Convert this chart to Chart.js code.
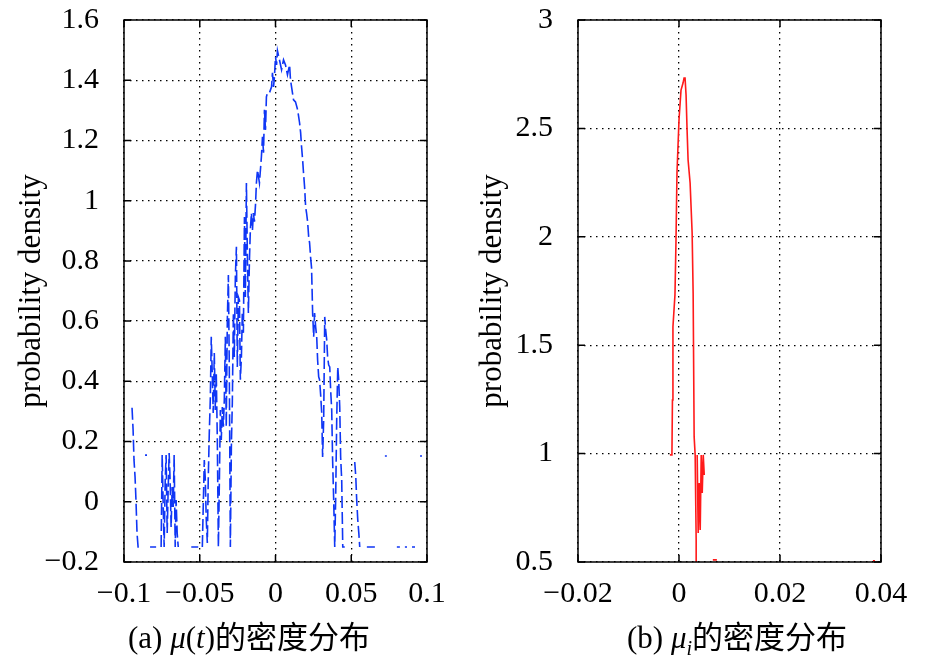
<!DOCTYPE html>
<html><head><meta charset="utf-8">
<script src="https://cdn.jsdelivr.net/npm/chart.js@4.4.0/dist/chart.umd.min.js"></script>
<style>
html,body{margin:0;padding:0;background:#fff;}
#wrap{position:relative;width:946px;height:667px;overflow:hidden;background:#fff;}
#cA{position:absolute;left:0;top:0;}
#cB{position:absolute;left:461px;top:0;}
.cap{position:absolute;top:616px;font-family:"Liberation Serif","Times New Roman",serif;font-size:31px;line-height:38px;white-space:nowrap;color:#000;}
.cap .zh{font-family:"Noto Sans CJK SC",sans-serif;font-size:31px;}
.cap sub{font-size:20px;vertical-align:-7px;line-height:0;}
</style></head>
<body><div id="wrap">
<canvas id="cA" width="461" height="667"></canvas>
<canvas id="cB" width="485" height="667"></canvas>
<div class="cap" style="left:128px">(a) <i>μ</i>(<i>t</i>)<span class="zh">的密度分布</span></div>
<div class="cap" style="left:627px">(b) <i>μ</i><sub><i>i</i></sub><span class="zh">的密度分布</span></div>
</div>
<script>
// ---- data: panel (a) density of mu(t); null = break in line ----
const leftX = [
 -0.0947,-0.0940,-0.0934,-0.0927,-0.0921,-0.0914,-0.0907,-0.0894,null,
 -0.0861,-0.0848,null,
 -0.0828,-0.0788,null,
 -0.0755,-0.0748,-0.0742,-0.0735,-0.0728,-0.0722,-0.0715,-0.0709,-0.0702,-0.0695,-0.0689,-0.0682,-0.0675,-0.0669,-0.0662,-0.0656,-0.0649,-0.0642,null,
 -0.0556,-0.0510,null,
 -0.0483,-0.0470,-0.0464,-0.0457,-0.0450,-0.0444,-0.0437,-0.0430,-0.0424,-0.0417,-0.0411,-0.0404,-0.0397,-0.0391,-0.0384,-0.0377,
 -0.0371,-0.0364,-0.0358,-0.0351,-0.0344,-0.0338,-0.0331,-0.0325,-0.0318,-0.0311,-0.0305,-0.0298,-0.0291,-0.0285,-0.0278,-0.0272,
 -0.0265,-0.0258,-0.0252,-0.0245,-0.0238,-0.0232,-0.0225,-0.0219,-0.0212,-0.0205,-0.0199,-0.0192,-0.0185,-0.0179,-0.0172,-0.0166,
 -0.0159,-0.0152,-0.0146,-0.0139,-0.0132,-0.0126,-0.0119,-0.0106,-0.0093,-0.0086,-0.0079,-0.0073,-0.0066,-0.0060,-0.0053,-0.0040,
 -0.0026,-0.0020,-0.0013,-0.0007,0.0000,0.0007,0.0013,0.0026,0.0040,0.0053,0.0066,0.0079,0.0093,0.0099,0.0106,0.0119,
 0.0132,0.0146,0.0159,0.0166,0.0172,0.0179,0.0185,0.0192,0.0199,0.0205,0.0212,0.0219,0.0225,0.0232,0.0238,0.0242,
 0.0245,0.0252,0.0258,0.0265,0.0272,0.0278,0.0285,0.0291,0.0298,0.0305,0.0311,0.0318,0.0325,0.0331,0.0338,0.0344,
 0.0351,0.0358,0.0364,0.0371,0.0377,0.0384,0.0391,0.0397,0.0404,0.0411,0.0417,0.0424,0.0430,0.0437,0.0444,0.0457,null,
 0.0523,0.0530,0.0536,0.0543,0.0550,0.0556,null,
 0.0603,0.0656,null,
 0.0722,0.0735,null,
 0.0801,0.0821,null,
 0.0854,0.0868,null,
 0.0901,0.0921,null,
 0.0954,0.0967
];
const leftY = [
 0.312,0.239,0.139,0.082,0.006,-0.104,-0.150,-0.150,null,
 0.155,0.155,null,
 -0.150,-0.150,null,
 -0.150,0.155,0.006,-0.150,0.072,0.155,-0.104,0.029,0.162,0.062,-0.084,0.049,-0.017,0.155,-0.150,0.006,-0.104,-0.150,null,
 -0.150,-0.150,null,
 -0.150,0.139,0.082,-0.060,-0.137,0.072,0.229,0.348,0.548,0.415,0.295,0.494,0.305,0.428,0.205,-0.150,
 0.049,0.305,0.205,0.315,0.249,0.338,0.548,0.249,0.604,0.753,0.448,-0.150,0.195,0.328,0.627,0.481,
 0.747,0.847,0.448,0.680,0.670,0.405,0.481,0.631,0.561,0.946,0.680,1.059,0.793,0.627,0.803,0.903,
 0.959,0.903,0.959,0.930,0.986,1.059,1.102,1.059,1.146,1.212,1.159,1.302,1.235,1.345,1.358,1.358,
 1.378,1.425,1.378,1.411,1.478,1.451,1.498,1.468,1.435,1.468,1.451,1.418,1.451,1.401,1.378,1.335,
 1.328,1.302,1.258,1.225,1.179,1.136,1.092,1.046,0.979,0.959,0.930,0.880,0.860,0.810,0.777,0.694,
 0.627,0.548,0.627,0.581,0.548,0.471,0.415,0.405,0.355,0.295,0.149,0.272,0.614,0.571,0.538,0.481,
 0.454,0.448,0.371,0.305,0.139,0.006,-0.150,0.006,0.272,0.448,0.405,0.315,0.149,0.072,-0.150,-0.150,null,
 0.132,0.082,0.006,-0.060,-0.104,-0.150,null,
 -0.150,-0.150,null,
 0.152,0.152,null,
 -0.150,-0.150,null,
 -0.150,-0.150,null,
 -0.150,-0.150,null,
 0.152,0.152
];
// ---- data: panel (b) density of mu_i ----
const rightX = [
 -0.0018,-0.0014,-0.0013,-0.0012,-0.0008,-0.0006,-0.0004,0.0000,0.0004,0.0008,0.0010,0.0012,0.0014,0.0016,0.0018,0.0022,
 0.0026,0.0028,0.0030,0.0032,0.0034,0.0034,null,
 0.0036,0.0038,0.0040,0.0042,0.0044,0.0046,0.0048,0.0050,null,
 0.0067,0.0075,null,
 0.0384,0.0388
];
const rightY = [
 0.994,0.994,1.247,1.584,1.732,1.976,2.294,2.539,2.677,2.709,2.732,2.732,2.654,2.493,2.354,2.248,
 2.018,1.741,1.077,0.994,0.601,0.500,null,
 0.994,0.634,0.864,0.648,0.994,0.818,0.994,0.901,null,
 0.510,0.510,null,
 0.505,0.505
];
// ---- ticks ----
const leftXTicks = [-0.1,-0.05,0,0.05,0.1];
const leftXLabels = ['\u22120.1','\u22120.05','0','0.05','0.1'];
const leftYTicks = [-0.2,0,0.2,0.4,0.6,0.8,1,1.2,1.4,1.6];
const leftYLabels = ['\u22120.2','0','0.2','0.4','0.6','0.8','1','1.2','1.4','1.6'];
const rightXTicks = [-0.02,0,0.02,0.04];
const rightXLabels = ['\u22120.02','0','0.02','0.04'];
const rightYTicks = [0.5,1,1.5,2,2.5,3];
const rightYLabels = ['0.5','1','1.5','2','2.5','3'];
const yTitle = 'probability density';

Chart.defaults.font.family = '"Liberation Serif","Times New Roman",serif';
Chart.defaults.color = '#000';

function toPoints(xs, ys){
  return xs.map((x,i)=>({x: x===null ? 0 : x, y: ys[i]}));
}

const boxPlugin = {
  id:'boxTicks',
  afterDraw(chart){
    const {ctx, chartArea:a, scales} = chart;
    ctx.save();
    ctx.setLineDash([]);
    ctx.strokeStyle = '#000';
    ctx.lineWidth = 1.5;
    const L = 7;
    ctx.beginPath();
    scales.x.ticks.forEach(t=>{
      const p = scales.x.getPixelForValue(t.value);
      ctx.moveTo(p, a.bottom); ctx.lineTo(p, a.bottom - L);
      ctx.moveTo(p, a.top); ctx.lineTo(p, a.top + L);
    });
    scales.y.ticks.forEach(t=>{
      const p = scales.y.getPixelForValue(t.value);
      ctx.moveTo(a.left, p); ctx.lineTo(a.left + L, p);
      ctx.moveTo(a.right, p); ctx.lineTo(a.right - L, p);
    });
    ctx.stroke();
    ctx.strokeRect(a.left, a.top, a.right - a.left, a.bottom - a.top);
    ctx.restore();
  }
};

function makeChart(id, xs, ys, color, dash, xT, xL, yT, yL, yW, padRight){
  return new Chart(document.getElementById(id), {
    type:'scatter',
    data:{datasets:[{
      data: toPoints(xs, ys),
      showLine:true,
      spanGaps:false,
      borderColor:color,
      borderWidth:1.6,
      borderDash:dash,
      pointRadius:0,
      pointHoverRadius:0,
      fill:false,
      tension:0
    }]},
    options:{
      responsive:false,
      animation:false,
      events:[],
      layout:{autoPadding:false, padding:{left:0, right:padRight, top:0, bottom:0}},
      plugins:{legend:{display:false}, tooltip:{enabled:false}},
      scales:{
        x:{
          type:'linear', min:xT[0], max:xT[xT.length-1],
          afterBuildTicks:(s)=>{ s.ticks = xT.map(v=>({value:v})); },
          afterFit:(s)=>{ s.height = 105; s.paddingLeft = 0; s.paddingRight = 0; },
          ticks:{ font:{size:30}, padding:14, maxRotation:0, autoSkip:false,
                  callback:(v,i)=>xL[i] },
          grid:{ color:'#000', lineWidth:1.3, drawTicks:false },
          border:{ display:false, dash:[1.5,4.5] }
        },
        y:{
          type:'linear', min:yT[0], max:yT[yT.length-1],
          afterBuildTicks:(s)=>{ s.ticks = yT.map(v=>({value:v})); },
          afterFit:(s)=>{ s.width = yW; s.paddingTop = 20; s.paddingBottom = 0; },
          ticks:{ font:{size:30}, padding:25, autoSkip:false,
                  callback:(v,i)=>yL[i] },
          grid:{ color:'#000', lineWidth:1.3, drawTicks:false },
          border:{ display:false, dash:[1.5,4.5] },
          title:{ display:true, text:yTitle, font:{size:31}, padding:{top:13, bottom:0} }
        }
      }
    },
    plugins:[boxPlugin]
  });
}

makeChart('cA', leftX, leftY, '#0f36f5', [12,4], leftXTicks, leftXLabels, leftYTicks, leftYLabels, 124, 34);
makeChart('cB', rightX, rightY, '#ff1a1a', [], rightXTicks, rightXLabels, rightYTicks, rightYLabels, 117, 65);
</script>
</body></html>
